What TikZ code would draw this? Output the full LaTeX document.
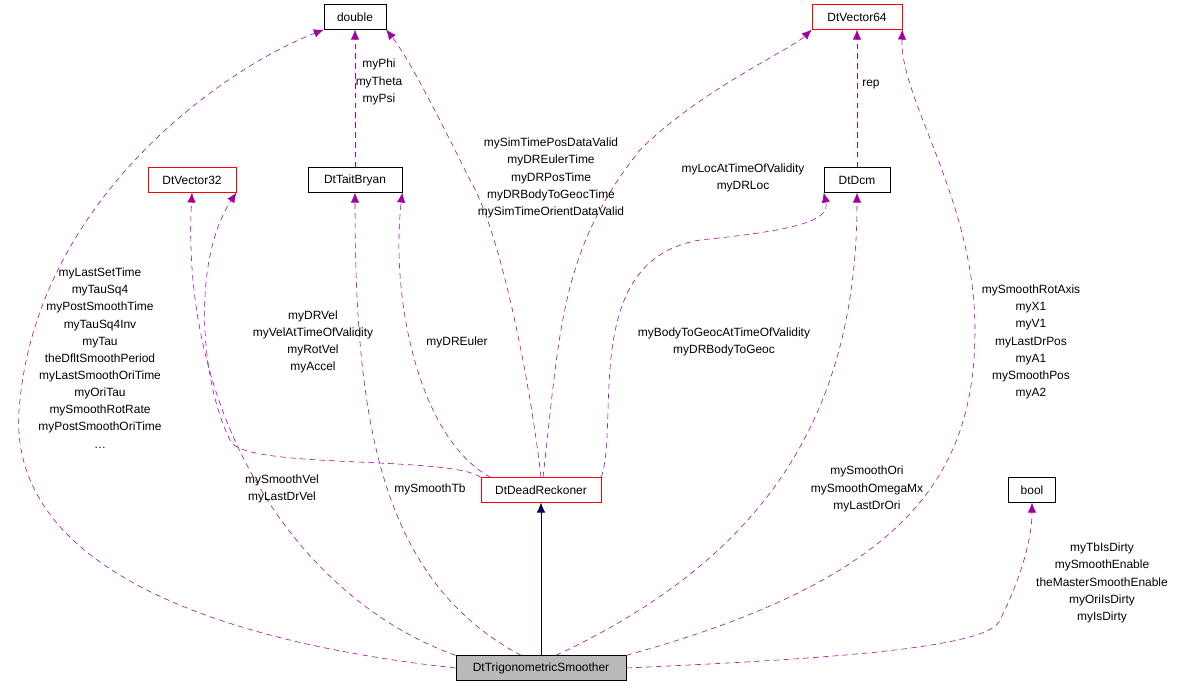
\documentclass[tikz,border=0pt]{standalone}
\usepackage{fontspec}
\setmainfont{Liberation Sans}
\usetikzlibrary{arrows.meta}
\tikzset{
  cls/.style={draw=black, fill=white, minimum height=0.62cm, inner sep=2pt, font=\fontsize{8.5}{10}\selectfont},
  red cls/.style={cls, draw=red},
  use/.style={draw=violet!70!magenta, dashed, dash pattern=on 4pt off 3pt, -{Latex[length=7pt,width=6pt]}, color=violet!75!magenta},
  inh/.style={draw=blue!30!black, -{Latex[length=7pt,width=6pt]}, fill=blue!30!black},
  lbl/.style={align=center, font=\fontsize{8.5}{12.2}\selectfont, inner sep=0pt}
}
\begin{document}
\begin{tikzpicture}[x=0.025cm,y=-0.025cm]
            \useasboundingbox (0,0) rectangle (1179,688);

            \node[cls, minimum width=1.55cm] (double) at (355,17) {double};
            \node[red cls, minimum width=2.25cm] (V64) at (857,17) {DtVector64};
            \node[red cls, minimum width=2.2cm] (V32) at (192,180) {DtVector32};
            \node[cls, minimum width=2.35cm] (TB) at (355,180) {DtTaitBryan};
            \node[cls, minimum width=1.65cm] (Dcm) at (857,180) {DtDcm};
            \node[red cls, minimum width=3.0cm] (DR) at (541,490) {DtDeadReckoner};
            \node[cls, minimum width=1.18cm] (bool) at (1032,490) {bool};
            \node[cls, fill=black!27, minimum width=4.25cm] (TS) at (541,668) {DtTrigonometricSmoother};

            % inheritance
            \draw[inh] (TS) -- (DR);

            % members of the smoother
            \draw[use] (TS.west) .. controls (200,640) and (0,560) .. (20,400) .. controls (40,200) and (220,70) .. (double.south west);
            \draw[use] (TS.north west) .. controls (300,600) and (180,420) .. (V32.south);
            \draw[use] (TS.north) ++(-20,0) coordinate (c1) (c1) .. controls (380,580) and (355,420) .. (TB.south);
            \draw[use] (TS.north) ++(15,0) coordinate (c2) (c2) .. controls (760,560) and (857,420) .. (Dcm.south);
            \draw[use] (TS.north east) .. controls (900,580) and (975,480) .. (975,330) .. controls (975,200) and (900,100) .. (V64.south east);
            \draw[use] (TS.east) .. controls (800,660) and (990,650) .. (1000,620) .. controls (1020,580) and (1032,540) .. (bool.south);

            % members of the dead reckoner
            \draw[use] (DR.north west) .. controls (450,455) and (240,470) .. (230,440) .. controls (200,380) and (192,260) .. (V32.south east);
            \draw[use] (DR.north west) ++(10,0) coordinate (c3) (c3) .. controls (420,440) and (390,300) .. (TB.south east);
            \draw[use] (DR.north) ++(0,0) coordinate (c4) (c4) .. controls (530,380) and (500,230) .. (470,180) .. controls (440,120) and (410,60) .. (double.south east);
            \draw[use] (DR.north) ++(2,0) coordinate (c5) (c5) .. controls (560,330) and (560,250) .. (640,150) .. controls (700,90) and (790,50) .. (V64.south west);
            \draw[use] (DR.north east) .. controls (620,420) and (580,260) .. (700,240) .. controls (800,230) and (830,220) .. (Dcm.south west);

            % member classes
            \draw[use] (TB) -- (double);
            \draw[use] (Dcm) -- (V64);

            % labels
            \node[lbl] (l1) at (100,358) {myLastSetTime\\myTauSq4\\myPostSmoothTime\\myTauSq4Inv\\myTau\\theDfltSmoothPeriod\\myLastSmoothOriTime\\myOriTau\\mySmoothRotRate\\myPostSmoothOriTime\\\ldots};
            \node[lbl] (l2) at (282,489) {mySmoothVel\\myLastDrVel};
            \node[lbl] (l3) at (430,489) {mySmoothTb};
            \node[lbl] (l4) at (867,489) {mySmoothOri\\mySmoothOmegaMx\\myLastDrOri};
            \node[lbl] (l5) at (1031,342) {mySmoothRotAxis\\myX1\\myV1\\myLastDrPos\\myA1\\mySmoothPos\\myA2};
            \node[lbl] (l6) at (1102,583) {myTbIsDirty\\mySmoothEnable\\theMasterSmoothEnable\\myOriIsDirty\\myIsDirty};
            \node[lbl] (l7) at (313,342) {myDRVel\\myVelAtTimeOfValidity\\myRotVel\\myAccel};
            \node[lbl] (l8) at (457,342) {myDREuler};
            \node[lbl] (l9) at (551,178) {mySimTimePosDataValid\\myDREulerTime\\myDRPosTime\\myDRBodyToGeocTime\\mySimTimeOrientDataValid};
            \node[lbl] (l10) at (743,178) {myLocAtTimeOfValidity\\myDRLoc};
            \node[lbl] (l11) at (724,342) {myBodyToGeocAtTimeOfValidity\\myDRBodyToGeoc};
            \node[lbl] (l12) at (379,82) {myPhi\\myTheta\\myPsi};
            \node[lbl] (l13) at (871,85) {rep};

        \end{tikzpicture}
\end{document}
